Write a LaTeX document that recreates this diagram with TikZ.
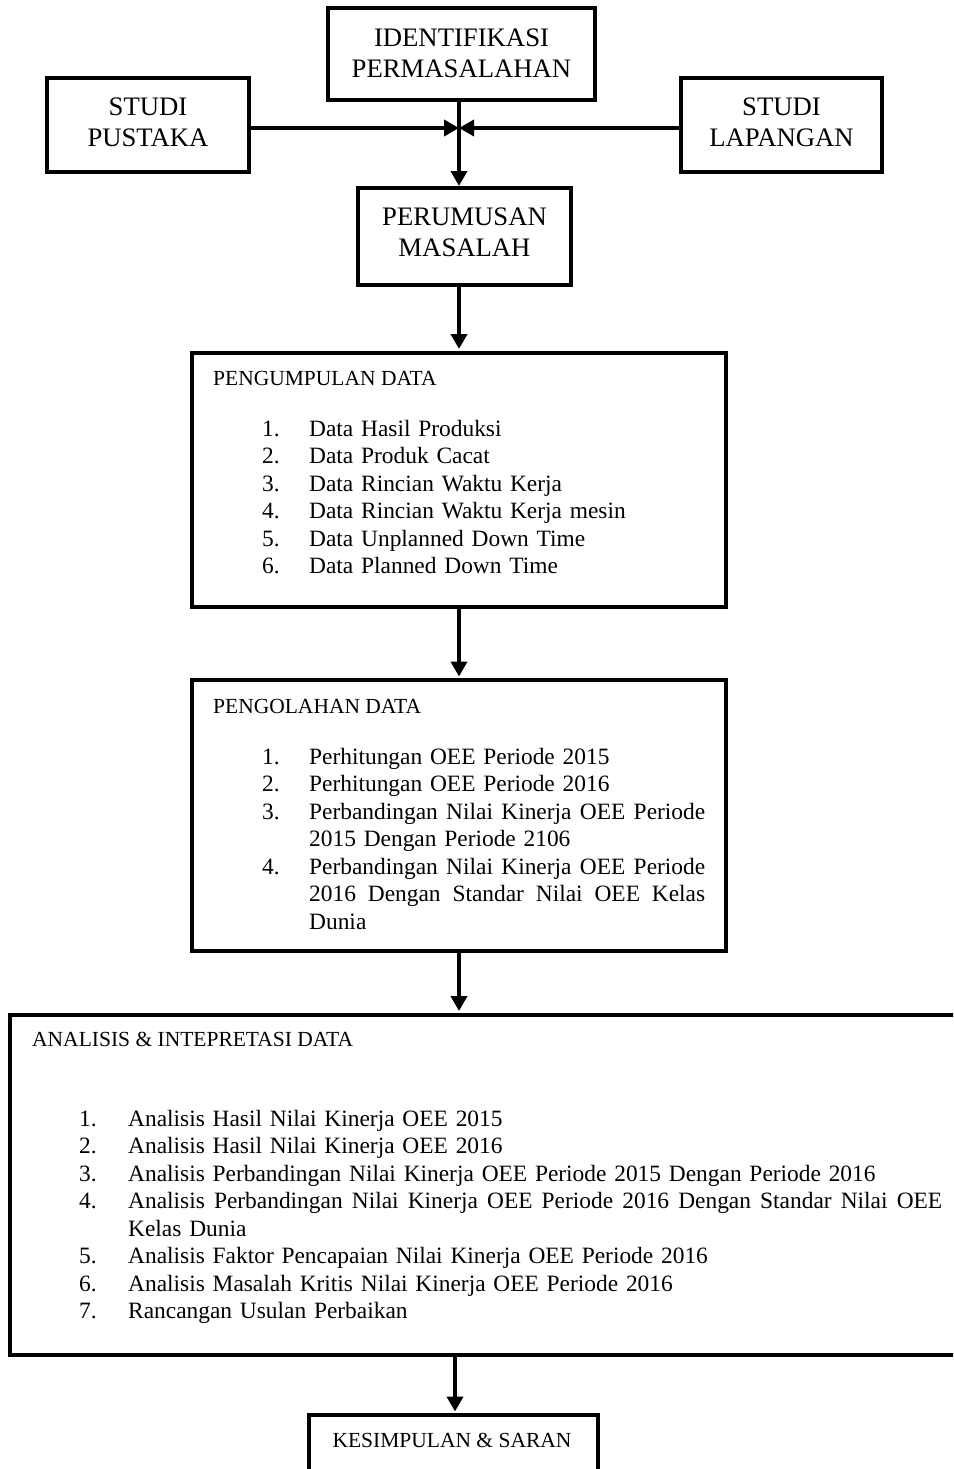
\documentclass[tikz,border=0pt]{standalone}
\usepackage{fontspec}
\setmainfont{Liberation Serif}
\usetikzlibrary{arrows.meta}
\newlength\numw
\newcommand\itm[2]{\hangindent=\numw\hangafter=1\relax\noindent\makebox[\numw][l]{#1}#2\par}
\newcommand\fullline[2]{\makebox[#1][l]{#2}\linebreak}
\hyphenpenalty=10000
\exhyphenpenalty=10000
\begin{document}
\begin{tikzpicture}[x=1pt,y=-1pt,
  box/.style={draw=black,line width=4pt,rectangle,inner sep=0pt,align=center,font=\fontsize{26.7}{31}\selectfont},
  panel/.style={draw=black,line width=4pt,rectangle,inner sep=0pt},
  head/.style={inner sep=0pt,anchor=base west,font=\fontsize{21.5}{25}\selectfont},
  listtext/.style={inner sep=0pt,anchor=base west,font=\fontsize{23.4}{27.5}\selectfont},
  arr/.style={line width=4pt,-{Triangle[length=15pt,width=16pt]}}]
\path[use as bounding box] (0,0) rectangle (953,1469);
\clip (0,0) rectangle (953,1469);
% top boxes
\node[box,minimum width=267pt,minimum height=92pt,text depth=1pt] (ident) at (461.5,54) {IDENTIFIKASI\\PERMASALAHAN};
\node[box,minimum width=202pt,minimum height=94pt,text depth=5pt] (pustaka) at (148,125) {STUDI\\PUSTAKA};
\node[box,minimum width=201pt,minimum height=94pt,text depth=5pt] (lapangan) at (781.5,125) {STUDI\\LAPANGAN};
\node[box,minimum width=213pt,minimum height=97pt,text depth=9pt] (perum) at (464.5,236.5) {PERUMUSAN\\MASALAH};
% panels
\node[panel,minimum width=534.5pt,minimum height=254.5pt] (kumpul) at (458.75,479.75) {};
\node[panel,minimum width=534.5pt,minimum height=271pt] (olah) at (458.75,815.5) {};
\node[panel,minimum width=990pt,minimum height=340.5pt] (analisis) at (505,1184.75) {};
\node[panel,minimum width=289pt,minimum height=105pt] (simpul) at (453,1467.5) {};
% junction and columns
\coordinate (j) at (459,128);
\coordinate (c2) at (455,0);
% connectors
\draw[arr] (ident.south -| j) -- (perum.north -| j);
\draw[arr] (pustaka.east |- j) -- (j);
\draw[arr] (lapangan.west |- j) -- (j);
\draw[arr,shorten >=1.5pt] (perum.south -| j) -- (kumpul.north -| j);
\draw[arr,shorten >=1.5pt] (kumpul.south -| j) -- (olah.north -| j);
\draw[arr,shorten >=1.5pt] (olah.south -| j) -- (analisis.north -| j);
\draw[arr,shorten >=1.5pt] (analisis.south -| c2) -- (simpul.north -| c2);
% texts
\node[head] (h1) at (213,385) {PENGUMPULAN DATA};
\node[listtext,text width=446pt] (l1) at (262,436) {\setlength\numw{47pt}%
\itm{1.}{Data Hasil Produksi}%
\itm{2.}{Data Produk Cacat}%
\itm{3.}{Data Rincian Waktu Kerja}%
\itm{4.}{Data Rincian Waktu Kerja mesin}%
\itm{5.}{Data Unplanned Down Time}%
\itm{6.}{Data Planned Down Time}};
\node[head] (h2) at (213,713) {PENGOLAHAN DATA};
\node[listtext,text width=446pt] (l2) at (262,764) {\setlength\numw{47pt}%
\itm{1.}{Perhitungan OEE Periode 2015}%
\itm{2.}{Perhitungan OEE Periode 2016}%
\itm{3.}{\fullline{396pt}{Perbandingan\hfill Nilai\hfill Kinerja\hfill OEE\hfill Periode}2015 Dengan Periode 2106}%
\itm{4.}{\fullline{396pt}{Perbandingan\hfill Nilai\hfill Kinerja\hfill OEE\hfill Periode}\fullline{396pt}{2016\hfill Dengan\hfill Standar\hfill Nilai\hfill OEE\hfill Kelas}Dunia}};
\node[head] (h3) at (32,1046) {ANALISIS \& INTEPRETASI DATA};
\node[listtext,text width=866pt] (l3) at (79,1126) {\setlength\numw{49pt}%
\itm{1.}{Analisis Hasil Nilai Kinerja OEE 2015}%
\itm{2.}{Analisis Hasil Nilai Kinerja OEE 2016}%
\itm{3.}{Analisis Perbandingan Nilai Kinerja OEE Periode 2015 Dengan Periode 2016}%
\itm{4.}{\fullline{814pt}{Analisis\hfill Perbandingan\hfill Nilai\hfill Kinerja\hfill OEE\hfill Periode\hfill 2016\hfill Dengan\hfill Standar\hfill Nilai\hfill OEE}Kelas Dunia}%
\itm{5.}{Analisis Faktor Pencapaian Nilai Kinerja OEE Periode 2016}%
\itm{6.}{Analisis Masalah Kritis Nilai Kinerja OEE Periode 2016}%
\itm{7.}{Rancangan Usulan Perbaikan}};
\node[head,anchor=base] (h4) at (452,1447) {KESIMPULAN \& SARAN};
\end{tikzpicture}
\end{document}
